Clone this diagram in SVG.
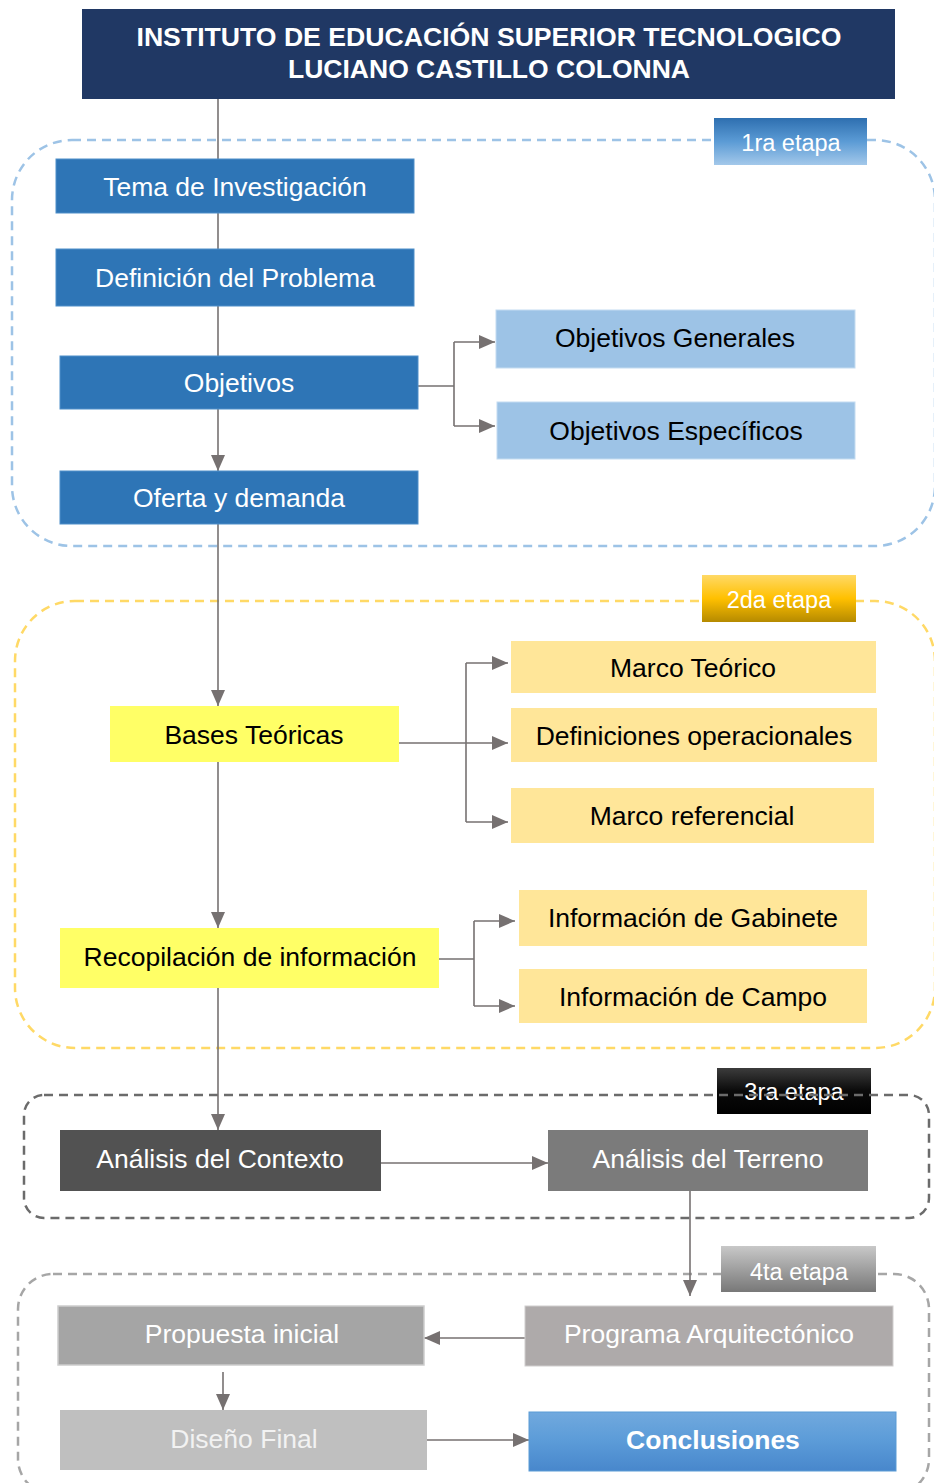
<svg xmlns="http://www.w3.org/2000/svg" width="934" height="1483" viewBox="0 0 934 1483">
  <defs>
    <marker id="ah" markerUnits="userSpaceOnUse" markerWidth="16" markerHeight="14" refX="16" refY="7" orient="auto">
      <path d="M0,0 L16,7 L0,14 z" fill="#767171"/>
    </marker>
    <linearGradient id="g1" x1="0" y1="0" x2="0" y2="1">
      <stop offset="0" stop-color="#2e6fb0"/>
      <stop offset="0.5" stop-color="#5b9bd5"/>
      <stop offset="1" stop-color="#a3c8ea"/>
    </linearGradient>
    <linearGradient id="g2" x1="0" y1="0" x2="0" y2="1">
      <stop offset="0" stop-color="#ffd966"/>
      <stop offset="0.5" stop-color="#ffc000"/>
      <stop offset="1" stop-color="#b58a00"/>
    </linearGradient>
    <linearGradient id="g3" x1="0" y1="0" x2="0" y2="1">
      <stop offset="0" stop-color="#3c3c3c"/>
      <stop offset="0.5" stop-color="#0a0a0a"/>
      <stop offset="1" stop-color="#000000"/>
    </linearGradient>
    <linearGradient id="g4" x1="0" y1="0" x2="0" y2="1">
      <stop offset="0" stop-color="#c8c8c8"/>
      <stop offset="0.5" stop-color="#a0a0a0"/>
      <stop offset="1" stop-color="#787878"/>
    </linearGradient>
    <linearGradient id="gc" x1="0" y1="0" x2="0" y2="1">
      <stop offset="0" stop-color="#71a9de"/>
      <stop offset="0.5" stop-color="#5b9bd8"/>
      <stop offset="1" stop-color="#4887cc"/>
    </linearGradient>
  </defs>
  <style>
    text { font-family: "Liberation Sans", Arial, sans-serif; font-size: 26.5px; text-anchor: middle; }
    .w { fill: #ffffff; }
    .k { fill: #000000; }
    .lbl { font-size: 23.5px; fill: #ffffff; }
    .stage { fill: none; stroke-width: 2.5; stroke-dasharray: 9 6; }
    .con { fill: none; stroke: #767171; stroke-width: 1.6; }
    .arr { marker-end: url(#ah); }
    .blue { fill: #2e75b6; stroke: #4f8fc9; stroke-width: 1; }
    .lblue { fill: #9dc3e6; stroke: #c4dcf1; stroke-width: 1; }
    .yel { fill: #ffff66; }
    .ora { fill: #ffe699; }
  </style>

  <!-- stage frames -->
  <g id="stages">
    <rect class="stage" x="12" y="140" width="923" height="406" rx="60" stroke="#9dc3e6"/>
    <rect class="stage" x="15" y="601" width="920" height="447" rx="60" stroke="#ffd966"/>
    <g id="label-3">
      <rect x="717" y="1068" width="154" height="46" fill="url(#g3)"/>
      <text class="lbl" x="794" y="1100">3ra etapa</text>
    </g>
    <rect class="stage" x="24" y="1095" width="905" height="123" rx="20" stroke="#6b6b6b"/>
    <rect class="stage" x="18" y="1274" width="911" height="220" rx="35" stroke="#a6a6a6"/>
  </g>

  <!-- connectors -->
  <g id="connectors">
    <path class="con arr" d="M218,99 V471"/>
    <path class="con arr" d="M218,524 V706"/>
    <path class="con arr" d="M218,762 V928"/>
    <path class="con arr" d="M218,988 V1130"/>

    <path class="con" d="M418,386 H454 M454,342 V426"/>
    <path class="con arr" d="M454,342 H495"/>
    <path class="con arr" d="M454,426 H495"/>

    <path class="con arr" d="M399,743 H508"/>
    <path class="con" d="M466,663 V822"/>
    <path class="con arr" d="M466,663 H508"/>
    <path class="con arr" d="M466,822 H508"/>

    <path class="con" d="M439,959 H474 M474,921 V1006"/>
    <path class="con arr" d="M474,921 H515"/>
    <path class="con arr" d="M474,1006 H515"/>

    <path class="con arr" d="M381,1163 H548"/>
    <path class="con arr" d="M690,1191 V1296"/>

    <path class="con arr" d="M525,1338 H424"/>
    <path class="con arr" d="M223,1372 V1410"/>
    <path class="con arr" d="M427,1440 H529"/>
  </g>

  <!-- header -->
  <g id="header">
    <rect x="82" y="9" width="813" height="90" fill="#203864"/>
    <text class="w" x="489" y="46" font-size="25" font-weight="bold" textLength="705" lengthAdjust="spacingAndGlyphs">INSTITUTO DE EDUCACIÓN SUPERIOR TECNOLOGICO</text>
    <text class="w" x="489" y="78" font-size="25" font-weight="bold" textLength="402" lengthAdjust="spacingAndGlyphs">LUCIANO CASTILLO COLONNA</text>
  </g>

  <!-- stage 1 -->
  <g id="label-1">
    <rect x="714" y="118" width="153" height="47" fill="url(#g1)"/>
    <text class="lbl" x="791" y="151">1ra etapa</text>
  </g>
  <g id="tema">
    <rect class="blue" x="56" y="159" width="358" height="54"/>
    <text class="w" x="235" y="196">Tema de Investigación</text>
  </g>
  <g id="definicion">
    <rect class="blue" x="56" y="249" width="358" height="57"/>
    <text class="w" x="235" y="287">Definición del Problema</text>
  </g>
  <g id="objetivos">
    <rect class="blue" x="60" y="356" width="358" height="53"/>
    <text class="w" x="239" y="392">Objetivos</text>
  </g>
  <g id="oferta">
    <rect class="blue" x="60" y="471" width="358" height="53"/>
    <text class="w" x="239" y="507">Oferta y demanda</text>
  </g>
  <g id="obj-generales">
    <rect class="lblue" x="496" y="310" width="359" height="58"/>
    <text class="k" x="675" y="347">Objetivos Generales</text>
  </g>
  <g id="obj-especificos">
    <rect class="lblue" x="497" y="402" width="358" height="57"/>
    <text class="k" x="676" y="440">Objetivos Específicos</text>
  </g>

  <!-- stage 2 -->
  <g id="label-2">
    <rect x="702" y="575" width="154" height="47" fill="url(#g2)"/>
    <text class="lbl" x="779" y="608">2da etapa</text>
  </g>
  <g id="bases">
    <rect class="yel" x="110" y="706" width="289" height="56"/>
    <text class="k" x="254" y="744">Bases Teóricas</text>
  </g>
  <g id="marco-teorico">
    <rect class="ora" x="511" y="641" width="365" height="52"/>
    <text class="k" x="693" y="677">Marco Teórico</text>
  </g>
  <g id="definiciones">
    <rect class="ora" x="511" y="708" width="366" height="54"/>
    <text class="k" x="694" y="745">Definiciones operacionales</text>
  </g>
  <g id="marco-referencial">
    <rect class="ora" x="511" y="788" width="363" height="55"/>
    <text class="k" x="692" y="825">Marco referencial</text>
  </g>
  <g id="recopilacion">
    <rect class="yel" x="60" y="928" width="379" height="60"/>
    <text class="k" x="250" y="966">Recopilación de información</text>
  </g>
  <g id="gabinete">
    <rect class="ora" x="519" y="890" width="348" height="56"/>
    <text class="k" x="693" y="927">Información de Gabinete</text>
  </g>
  <g id="campo">
    <rect class="ora" x="519" y="969" width="348" height="54"/>
    <text class="k" x="693" y="1006">Información de Campo</text>
  </g>

  <!-- stage 3 -->
  <g id="contexto">
    <rect x="60" y="1130" width="321" height="61" fill="#525252"/>
    <text class="w" x="220" y="1168">Análisis del Contexto</text>
  </g>
  <g id="terreno">
    <rect x="548" y="1130" width="320" height="61" fill="#7b7b7b"/>
    <text class="w" x="708" y="1168">Análisis del Terreno</text>
  </g>

  <!-- stage 4 -->
  <g id="label-4">
    <rect x="721" y="1246" width="155" height="46" fill="url(#g4)"/>
    <text class="lbl" x="799" y="1280">4ta etapa</text>
  </g>
  <g id="propuesta">
    <rect x="58" y="1306" width="366" height="59" fill="#a5a5a5" stroke="#cdcdcd" stroke-width="1.5"/>
    <text class="w" x="242" y="1343">Propuesta inicial</text>
  </g>
  <g id="programa">
    <rect x="525" y="1306" width="368" height="60" fill="#aeaaaa" stroke="#d0cece" stroke-width="1"/>
    <text class="w" x="709" y="1343">Programa Arquitectónico</text>
  </g>
  <g id="diseno">
    <rect x="60" y="1410" width="367" height="60" fill="#bfbfbf"/>
    <text x="244" y="1448" fill="#f2f2f2">Diseño Final</text>
  </g>
  <g id="conclusiones">
    <rect x="529" y="1412" width="367" height="59" fill="url(#gc)" stroke="#5b9bd5" stroke-width="1"/>
    <text class="w" x="713" y="1449" font-weight="bold">Conclusiones</text>
  </g>
</svg>
